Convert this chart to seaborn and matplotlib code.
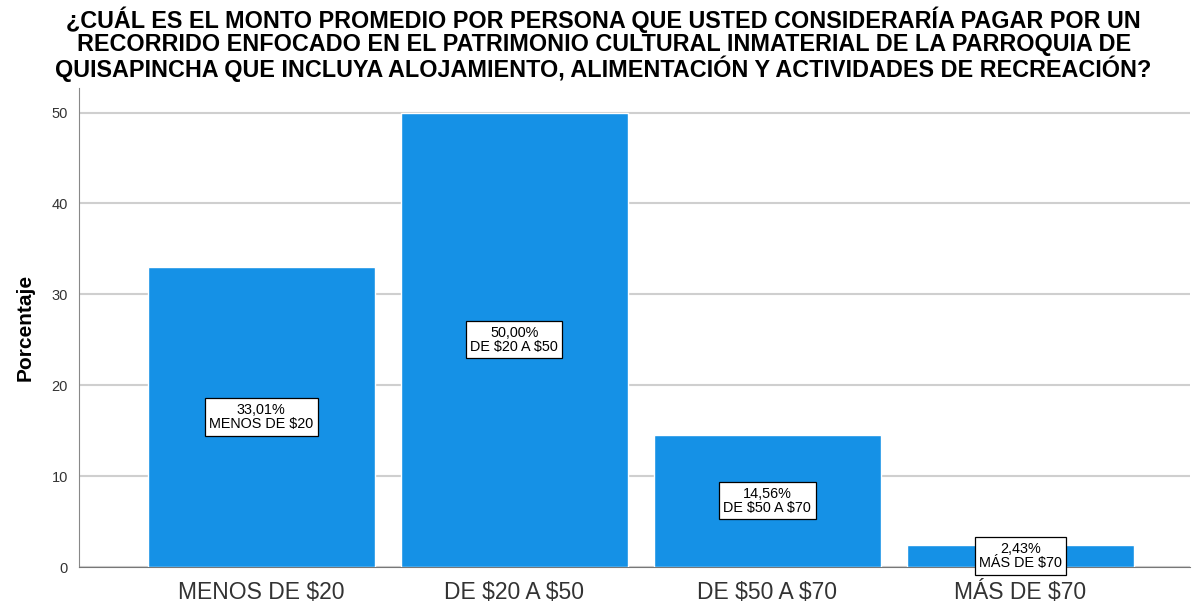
import pandas as pd
import seaborn as sns
import matplotlib.pyplot as plt

# Datos
categorias = ['MENOS DE $20', 'DE $20 A $50', 'DE $50 A $70', 'MÁS DE $70']
porcentajes = [33.01, 50.00, 14.56, 2.43]
etiquetas = ['33,01%', '50,00%', '14,56%', '2,43%']

titulo = ('¿CUÁL ES EL MONTO PROMEDIO POR PERSONA QUE USTED CONSIDERARÍA PAGAR POR UN\n'
          'RECORRIDO ENFOCADO EN EL PATRIMONIO CULTURAL INMATERIAL DE LA PARROQUIA DE\n'
          'QUISAPINCHA QUE INCLUYA ALOJAMIENTO, ALIMENTACIÓN Y ACTIVIDADES DE RECREACIÓN?')

df = pd.DataFrame({'categoria': categorias, 'porcentaje': porcentajes})

sns.set_style('white')
plt.rcParams['font.family'] = ['Liberation Sans', 'DejaVu Sans']
plt.rcParams['text.parse_math'] = False  # los $ son texto normal

fig = plt.figure(figsize=(11.93, 6.02), dpi=100)
ax = fig.add_axes([0.0662, 0.0581, 0.9313, 0.7957])

sns.barplot(ax=ax, data=df, x='categoria', y='porcentaje', color='#1591e6',
            saturation=1, width=0.897, zorder=3)

# Etiquetas dentro de las barras
for i, (v, txt) in enumerate(zip(porcentajes, etiquetas)):
    ax.text(i, v / 2, f'{txt}\n{categorias[i]}', ha='center', va='center',
            fontsize=10.4, linespacing=1.05, color='black', zorder=5,
            bbox=dict(boxstyle='square,pad=0.3', facecolor='white',
                      edgecolor='black', linewidth=0.9))

ax.set_xlim(-0.72, 3.67)
ax.set_ylim(0, 52.7)
ax.set_yticks([0, 10, 20, 30, 40, 50])
ax.yaxis.grid(True, color='#cfcfcf', linewidth=1.5, zorder=0)
ax.set_axisbelow(True)

for s in ['top', 'right']:
    ax.spines[s].set_visible(False)
ax.spines['left'].set_color('#888888')
ax.spines['bottom'].set_color('#777777')

ax.tick_params(axis='y', labelsize=10.5, colors='#333333', length=0, pad=8)
ax.tick_params(axis='x', labelsize=16.5, colors='#333333', length=0, pad=10)
ax.set_xlabel('')
ax.set_ylabel('Porcentaje', fontsize=15, fontweight='bold', labelpad=12,
              color='black')

fig.suptitle(titulo, fontsize=16.8, fontweight='bold', x=0.506, y=0.99,
             linespacing=1.0, color='black')

plt.savefig('out.png', dpi=100)
